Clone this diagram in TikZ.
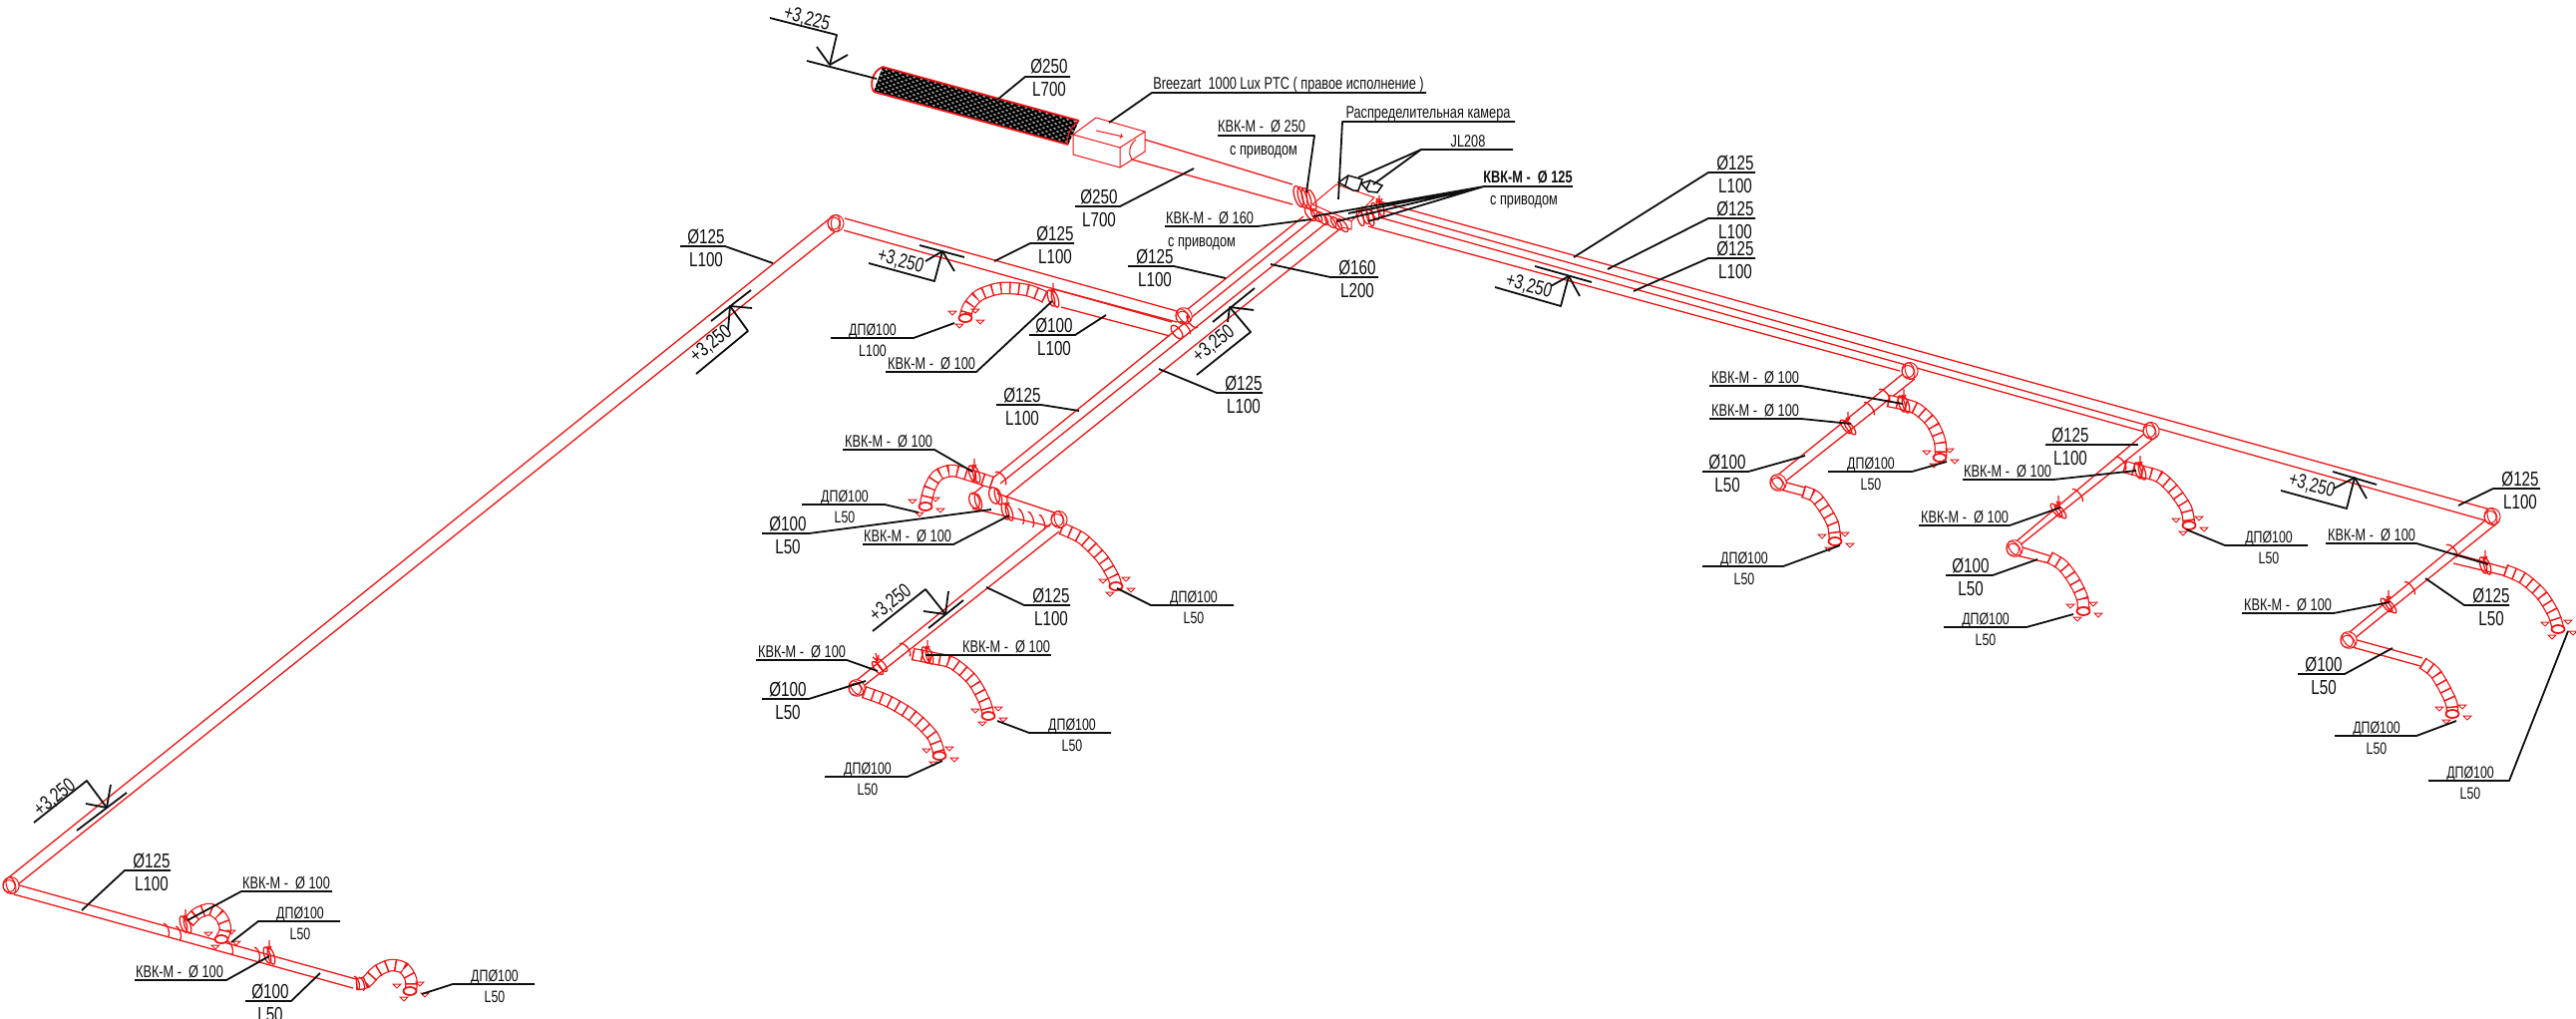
\documentclass[tikz,border=0pt]{standalone}
\usepackage{fontspec}
\newfontfamily\nf[FakeStretch=0.75]{Liberation Sans}
\definecolor{duct}{RGB}{240,20,20}
\definecolor{ink}{RGB}{15,15,15}
\tikzset{
 redl/.style={draw=duct,line width=1.3pt,line join=round},
 thinr/.style={draw=duct,line width=1pt},
 leader/.style={draw=ink,line width=1.8pt,line join=round},
 txB/.style={font=\nf\fontsize{20.3}{20}\selectfont,text=ink,inner sep=0pt},
 txS/.style={font=\nf\fontsize{16.5}{17}\selectfont,text=ink,inner sep=0pt},
 txK/.style={font=\nf\fontsize{17}{17}\selectfont,text=ink,inner sep=0pt},
 txBold/.style={font=\nf\bfseries\fontsize{17}{17}\selectfont,text=ink,inner sep=0pt},
 ribs/.style={draw=duct,line width=12.5pt,dash pattern=on 1.5pt off 7.5pt}
}
\newcommand{\ldr}[4]{\coordinate (#1t) at (#2);\coordinate (#1k) at (#3);\coordinate (#1e) at (#4);\draw[leader] (#1t) -- (#1k) -- (#1e);}
\newcommand{\shB}[7]{\ldr{#1}{#2}{#3}{#4}\node[txB,anchor=base] (#1a) at ([yshift=3pt]#5) {#6};\node[txB,anchor=base] (#1b) at ([yshift=-20pt]#5) {#7};}
\newcommand{\shS}[7]{\ldr{#1}{#2}{#3}{#4}\node[txS,anchor=base] (#1a) at ([yshift=3pt]#5) {#6};\node[txS,anchor=base] (#1b) at ([yshift=-18pt]#5) {#7};}
\newcommand{\shK}[6]{\ldr{#1}{#2}{#3}{#4}\node[txK,anchor=base] (#1a) at ([yshift=3pt]#5) {#6};}
\newcommand{\flex}[1]{\draw[duct,line width=12.5pt] plot[smooth] coordinates {#1};\draw[white,line width=10pt] plot[smooth] coordinates {#1};\draw[ribs] plot[smooth] coordinates {#1};}
\newcommand{\band}[5]{\draw[redl,shift={(#1,#2)},rotate=#3] (0,0) ellipse (#4pt and #5pt);}
\newcommand{\barc}[5]{\draw[redl,shift={(#1,#2)},rotate=#3] (0pt,#5pt) arc [start angle=90,end angle=-90,x radius=#4pt,y radius=#5pt];}
\newcommand{\elb}[3]{\draw[thinr,fill=white,shift={(#1,#2)},rotate=#3] (0,0) ellipse (8pt and 8.5pt);\draw[thinr,shift={(#1,#2)},rotate=#3] (0,0) ellipse (4.5pt and 8.5pt);\draw[thinr,shift={(#1,#2)},rotate=#3] (-2pt,0pt) ellipse (6pt and 6pt);}
\newcommand{\dmp}[3]{\band{#1}{#2}{#3}{3}{8.5}\band{#1+4}{#2+1}{#3}{3}{8.5}\draw[redl] (#1+2,#2-15) -- (#1+2,#2-6) (#1,#2-9) -- (#1+2,#2-6) -- (#1+4,#2-9);}
\newcommand{\dif}[2]{\draw[redl,fill=white,line width=1.8pt] (#1,#2) ellipse (6.5pt and 4pt);
 \foreach \a/\b in {-13/-5,10/-7,15/4,-6/8}{\draw[thinr] ({#1+\a-4},{#2+\b-2}) -- ({#1+\a+4},{#2+\b-2}) -- ({#1+\a},{#2+\b+2}) -- cycle;}}
\newcount\levn
\def\levtext{+3,250}
\newcommand{\lev}[9]{\global\advance\levn by 1
 \coordinate (lv\the\levn p) at (#3);
 \draw[leader] (#1) -- (#2) -- (lv\the\levn p);
 \draw[leader] (#4) -- (#5);
 \draw[leader] (#6) -- (lv\the\levn p) -- (#7);
 \node[txB,rotate=#9] (lv\the\levn) at (#8) {\levtext};}
\begin{document}
\begin{tikzpicture}[x=1pt,y=-1pt]
\path[use as bounding box,fill=white] (0,0) rectangle (2583,1022);

% ---- silencer ----
\begin{scope}
\clip (885,67) -- (1082,121) -- (1071,145) -- (876,92) -- cycle;
\fill[black!35] (870,60) rectangle (1090,150);
\foreach \i in {0,...,32}{
 \draw[black,line width=2pt] ({865+\i*7-24},{76+\i*1.92-27}) -- ({865+\i*7+24},{76+\i*1.92+27});
 \draw[black,line width=2pt] ({865+\i*7-60},{76+\i*1.92+21}) -- ({865+\i*7+60},{76+\i*1.92-21});
}
\end{scope}
\draw[redl,line width=1.8pt] (885,67) -- (1082,121) (876,92) -- (1071,145);
\draw[redl,line width=1.8pt] (885,67) .. controls (874,72) and (872,85) .. (876,92);
\draw[redl] (1082,121) .. controls (1074,126) and (1068,138) .. (1071,145);

% ---- fan box ----
\draw[thinr] (1099,118) -- (1148,132) -- (1123,148) -- (1076,135) -- cycle;
\draw[thinr] (1076,135) -- (1076,155) -- (1123,168) -- (1148,152) -- (1148,132) (1123,148) -- (1123,168);
\draw[thinr,->] (1099,131) -- (1126,137);
\draw[thinr] (1139,140) .. controls (1132,146) and (1131,154) .. (1135,160);

% ---- main supply ----
\draw[redl] (1148,140) -- (1296,185) (1135,160) -- (1296,205);
\foreach \x/\y in {1302/197,1306/198,1310/199,1315/201}{\band{\x}{\y}{17}{4}{11}}

% ---- plenum ----
\draw[thinr] (1316,205) -- (1340,185) -- (1378,198) -- (1355,222) (1316,205) -- (1355,222) -- (1355,230) -- (1345,228);
\foreach \x/\y in {1314/215,1320/216,1326/219,1334/222,1340/224,1346/226}{\band{\x}{\y}{39}{3.5}{8}}
\foreach \x/\y in {1364/218,1369/216,1374/218,1379/212,1384/208}{\band{\x}{\y}{17}{3}{9}}
\draw[redl] (1383,205) -- (1383,196) (1380,199) -- (1383,205) -- (1386,199);

% ---- JL208 ----
\draw[ink,line width=1.5pt,fill=white] (1342,183) -- (1352,176) -- (1366,180) -- (1362,191) -- (1357,191) -- cycle;
\draw[ink,line width=1.5pt,fill=white] (1365,184) -- (1374,181) -- (1386,186) -- (1381,193) -- (1372,192) -- cycle;
\draw[ink,line width=1.5pt] (1352,176) -- (1349,186) (1374,181) -- (1370,190);

% ---- trunk to the right ----
\draw[redl] (1383,202) -- (2497,511);
\draw[redl] (1383,210) -- (2492,522);
\draw[redl] (1383,218) -- (2150,433);
\draw[redl] (1372,227) -- (1905,372);

% ---- Y tubes towards lower left ----
\draw[redl] (1307,217) -- (1191,310);
\draw[redl] (1320,217) -- (975,496);
\draw[redl] (1332,222) -- (1003,485);
\draw[redl] (1343,230) -- (1008,499);
\elb{1187}{317}{39}
\barc{1196}{322}{-140}{4}{8}
\band{1180}{333}{39}{4}{8}
\barc{1188}{329}{39}{3}{8}

% ---- upper-left run ----
\draw[redl] (831,220) -- (5,883) (839,231) -- (18,887);
\draw[redl] (847,219) -- (1180,312) (846,231) -- (1175,323);
\elb{838}{224}{0}
\draw[redl] (1057,290) -- (1180,323) (1064,308) -- (1173,337);
\flex{(1048,298) (1030,291) (1004,289) (982,296) (971,308) (968,318)}
\dmp{1054}{299}{17}
\dif{968}{319}

% ---- lower manifold ----
\draw[redl] (1000,495) -- (1060,515) (975,510) -- (1053,528);
\flex{(995,484) (977,478) (955,472) (940,477) (932,490) (928,506)}
\dmp{975}{475}{17}
\dif{928}{508}
\band{977}{502}{17}{5}{8}\band{981}{503}{17}{3}{8}
\band{997}{497}{17}{5}{8.5}\band{1001}{498}{17}{3}{8.5}
\barc{1003}{480}{39}{4}{8}
\dmp{1008}{513}{17}
\barc{1023}{518}{17}{3}{8}\barc{1033}{521}{17}{3}{8}\barc{1044}{524}{17}{3}{8}
\flex{(1064,530) (1085,540) (1105,560) (1116,578) (1119,587)}
\dif{1119}{588}
\elb{1062}{521}{17}

\draw[redl] (1054,525) -- (853,687) (1062,533) -- (866,688);
\flex{(866,694) (890,703) (915,718) (935,738) (942,757)}
\dif{942}{758}
\flex{(915,656) (935,660) (955,665) (975,682) (987,703) (991,717)}
\dif{991}{718}
\dmp{928}{657}{17}
\band{880}{670}{39}{3}{8}\band{884}{667}{39}{3}{8}
\draw[redl] (880,663) -- (878,655) (875,659) -- (880,663) -- (881,657);
\barc{907}{652}{39}{4}{8}
\elb{859}{690}{39}

% ---- branch 1 ----
\draw[redl] (1908,375) -- (1778,480) (1920,380) -- (1790,483);
\draw[redl] (1788,483) -- (1810,489) (1785,491) -- (1808,497);
\flex{(1893,402) (1907,405) (1922,410) (1937,424) (1945,442) (1946,458)}
\dif{1945}{459}
\dmp{1907}{405}{17}
\flex{(1808,493) (1820,498) (1830,511) (1838,526) (1840,542)}
\dif{1840}{543}
\elb{1915}{372}{17}
\elb{1783}{484}{39}
\barc{1874}{410}{39}{3}{8}
\barc{1889}{397}{39}{4}{8}
\dmp{1851}{428}{39}

% ---- branch 2 ----
\draw[redl] (2150,435) -- (2017,547) (2163,437) -- (2024,548);
\draw[redl] (2025,548) -- (2057,558) (2022,557) -- (2055,565);
\flex{(2130,468) (2144,472) (2165,478) (2180,492) (2192,510) (2195,526)}
\dif{2195}{527}
\dmp{2144}{472}{17}
\flex{(2055,559) (2068,567) (2080,583) (2088,600) (2089,612)}
\dif{2089}{613}
\elb{2157}{432}{17}
\elb{2020}{550}{39}
\barc{2083}{497}{39}{3}{8}
\barc{2126}{465}{39}{4}{8}
\dmp{2062}{512}{39}

% ---- branch 3 ----
\draw[redl] (2492,522) -- (2351,638) (2506,523) -- (2360,641);
\draw[redl] (2360,641) -- (2429,660) (2355,648) -- (2427,668);
\draw[redl] (2460,555) -- (2514,570) (2460,565) -- (2510,577);
\flex{(2512,572) (2530,580) (2548,596) (2560,615) (2565,630)}
\dif{2565}{631}
\dmp{2490}{567}{17}
\flex{(2429,665) (2441,674) (2451,690) (2458,705) (2459,715)}
\dif{2459}{716}
\elb{2499}{518}{17}
\elb{2355}{642}{39}
\barc{2416}{590}{39}{3}{8}
\barc{2458}{553}{39}{4}{8}
\dmp{2393}{607}{39}

% ---- bottom run ----
\draw[redl] (16,887) -- (357,982) (14,897) -- (354,991);
\flex{(189,925) (198,916) (211,912) (222,920) (226,932) (222,942)}
\dif{222}{942}
\dmp{184}{927}{17}
\flex{(357,987) (367,985) (378,974) (392,968) (405,971) (412,982) (412,993)}
\dif{411}{994}
\dmp{268}{958}{17}
\elb{11}{888}{17}
\barc{166}{933}{17}{3}{7}\barc{178}{936}{17}{3}{7}
\barc{230}{951}{17}{3}{7}
\barc{257}{957}{17}{3}{7}
\barc{357}{986}{17}{3}{7}\barc{362}{987}{17}{3}{7}

% ======== levels ========
\def\levtext{+3,225}
\lev{772,18}{839,35}{832,65}{809,61}{879,79}{819,47}{850,55}{809,19}{-15}
\def\levtext{+3,250}
\lev{871,264}{937,282}{945,252}{922,246}{967,258}{928,262}{957,272}{903,262}{-15}
\lev{1499,288}{1565,307}{1573,277}{1539,267}{1596,283}{1555,287}{1584,297}{1533,287}{-15}
\lev{2287,492}{2353,510}{2361,479}{2339,473}{2383,486}{2340,490}{2373,500}{2318,487}{-15}
\lev{1200,376}{1254,333}{1233,308}{1216,323}{1258,289}{1257,311}{1231,323}{1217,345}{39}
\lev{698,375}{750,332}{732,307}{713,322}{753,291}{754,309}{730,331}{713,345}{39}
\lev{875,633}{928,591}{948,616}{931,630}{966,602}{926,613}{951,593}{893,605}{39}
\lev{34,825}{87,783}{107,810}{77,833}{127,795}{86,806}{111,787}{55,800}{39}

% ======== labels ========
\shB{a1}{1000,100}{1028,77}{1073,77}{1052,77}{Ø250}{L700}
\shB{a2}{1197,169}{1123,207}{1078,207}{1102,207}{Ø250}{L700}
\ldr{br}{1112,123}{1155,93}{1430,93}
\node[txK,anchor=base] (brt) at (1292,90) {Breezart\ \ 1000 Lux PTC ( правое исполнение )};
\shK{k250}{1310,193}{1318,136}{1221,136}{1265,136}{КВК-М -\ \ Ø 250}
\node[txK,anchor=base] (k250b) at (1267,155) {с приводом};
\shK{cam}{1342,200}{1346,122}{1519,122}{1432,122}{Распределительная камера}
\ldr{jl}{1362,178}{1425,150}{1517,150}
\coordinate (jl2) at (1377,185);
\draw[leader] (jl2) -- (jlk);
\node[txK,anchor=base] (jlt) at (1472,147) {JL208};
\shK{k160}{1315,220}{1261,227}{1168,227}{1213,227}{КВК-М -\ \ Ø 160}
\node[txK,anchor=base] (k160b) at (1205,247) {с приводом};
% bold damper callout
\coordinate (kb1) at (1317,217);\coordinate (kb2) at (1340,222);\coordinate (kb3) at (1352,214);\coordinate (kb4) at (1372,222);
\coordinate (kbk) at (1488,187);\coordinate (kbe) at (1577,187);
\draw[leader] (kb1) -- (kbk) (kb2) -- (kbk) (kb3) -- (kbk) (kb4) -- (kbk);
\draw[leader,line width=2.6pt] (kbk) -- (kbe);
\node[txBold,anchor=base] (kba) at (1532,183) {КВК-М -\ \ Ø 125};
\node[txK,anchor=base] (kbb) at (1528,205) {с приводом};

\shB{t1}{1578,258}{1713,173}{1760,173}{1740,173}{Ø125}{L100}
\shB{t2}{1612,270}{1713,219}{1760,219}{1740,219}{Ø125}{L100}
\shB{t3}{1638,292}{1713,259}{1760,259}{1740,259}{Ø125}{L100}

\shB{u1}{997,262}{1033,244}{1077,244}{1058,244}{Ø125}{L100}
\shB{u2}{775,264}{727,247}{682,247}{708,247}{Ø125}{L100}
\shS{u3}{957,324}{916,339}{833,339}{875,339}{ДПØ100}{L100}
\shK{u4}{1055,302}{979,373}{888,373}{934,373}{КВК-М -\ \ Ø 100}
\shB{u5}{1109,316}{1078,336}{1032,336}{1057,336}{Ø100}{L100}
\shB{u6}{1229,279}{1177,267}{1131,267}{1158,267}{Ø125}{L100}
\shB{u7}{1274,265}{1334,278}{1382,278}{1361,278}{Ø160}{L200}
\shB{u8}{1162,370}{1220,394}{1266,394}{1247,394}{Ø125}{L100}
\shB{u9}{1082,412}{1044,406}{999,406}{1025,406}{Ø125}{L100}

\shK{m1}{975,473}{937,451}{845,451}{891,451}{КВК-М -\ \ Ø 100}
\shS{m2}{921,514}{887,506}{804,506}{847,506}{ДПØ100}{L50}
\shB{m3}{994,511}{811,535}{764,535}{790,535}{Ø100}{L50}
\shK{m4}{1012,517}{956,546}{865,546}{910,546}{КВК-М -\ \ Ø 100}
\shS{m5}{1120,590}{1154,607}{1237,607}{1197,607}{ДПØ100}{L50}
\shB{m6}{989,589}{1027,607}{1073,607}{1054,607}{Ø125}{L100}
\shK{m7}{880,673}{849,662}{758,662}{804,662}{КВК-М -\ \ Ø 100}
\shK{m8}{928,657}{928,657}{1054,657}{1009,657}{КВК-М -\ \ Ø 100}
\shB{m9}{868,683}{811,701}{764,701}{790,701}{Ø100}{L50}
\shS{m10}{1000,723}{1032,735}{1114,735}{1075,735}{ДПØ100}{L50}
\shS{m11}{945,763}{910,779}{827,779}{870,779}{ДПØ100}{L50}

\shK{b11}{1908,405}{1806,387}{1714,387}{1760,387}{КВК-М -\ \ Ø 100}
\shK{b12}{1856,425}{1806,420}{1714,420}{1760,420}{КВК-М -\ \ Ø 100}
\shB{b13}{1810,457}{1753,473}{1707,473}{1732,473}{Ø100}{L50}
\shS{b14}{1952,463}{1917,473}{1833,473}{1876,473}{ДПØ100}{L50}
\shS{b15}{1845,547}{1788,568}{1707,568}{1749,568}{ДПØ100}{L50}

\shB{b21}{2144,446}{2099,446}{2051,446}{2076,446}{Ø125}{L100}
\shK{b22}{2142,472}{2059,481}{1968,481}{2013,481}{КВК-М -\ \ Ø 100}
\shK{b23}{2066,509}{2015,527}{1924,527}{1970,527}{КВК-М -\ \ Ø 100}
\shB{b24}{2043,561}{1998,577}{1951,577}{1976,577}{Ø100}{L50}
\shS{b25}{2079,616}{2032,629}{1949,629}{1991,629}{ДПØ100}{L50}
\shS{b26}{2192,531}{2231,547}{2314,547}{2275,547}{ДПØ100}{L50}

\shB{b31}{2465,507}{2500,490}{2547,490}{2527,490}{Ø125}{L100}
\shK{b32}{2495,566}{2423,545}{2332,545}{2378,545}{КВК-М -\ \ Ø 100}
\shK{b33}{2396,604}{2340,615}{2248,615}{2294,615}{КВК-М -\ \ Ø 100}
\shB{b34}{2432,580}{2471,607}{2516,607}{2498,607}{Ø125}{L50}
\shB{b35}{2399,650}{2351,676}{2304,676}{2330,676}{Ø100}{L50}
\shS{b36}{2463,723}{2423,738}{2341,738}{2383,738}{ДПØ100}{L50}
\shS{b37}{2575,633}{2516,783}{2435,783}{2477,783}{ДПØ100}{L50}

\shB{c1}{82,913}{125,873}{171,873}{152,873}{Ø125}{L100}
\shK{c2}{188,923}{242,894}{333,894}{287,894}{КВК-М -\ \ Ø 100}
\shS{c3}{232,945}{259,924}{341,924}{301,924}{ДПØ100}{L50}
\shK{c4}{270,959}{227,983}{135,983}{180,983}{КВК-М -\ \ Ø 100}
\shB{c5}{321,976}{292,1004}{246,1004}{271,1004}{Ø100}{L50}
\shS{c6}{423,997}{454,987}{536,987}{496,987}{ДПØ100}{L50}
\end{tikzpicture}
\end{document}
